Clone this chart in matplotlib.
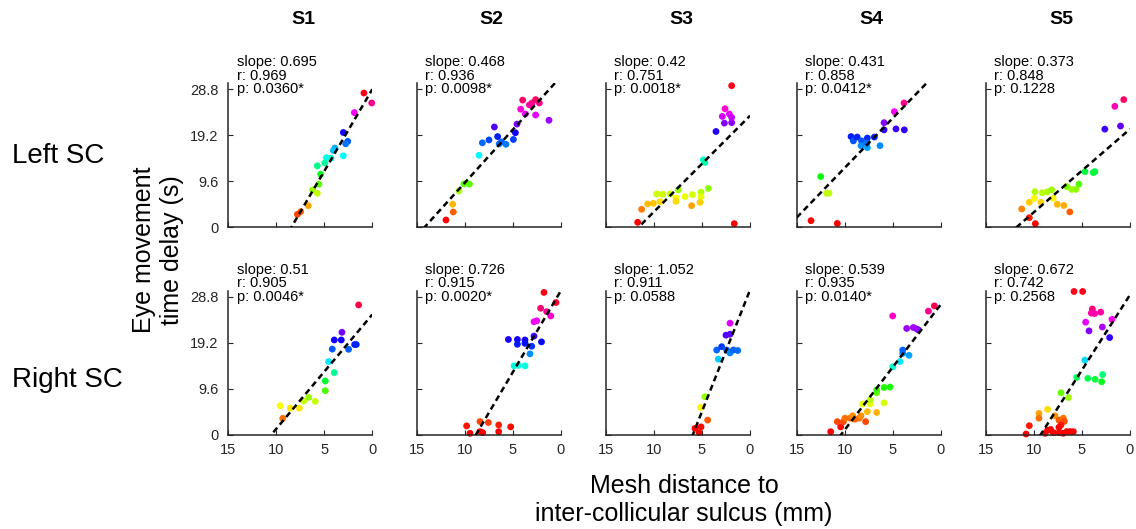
import numpy as np
import matplotlib.pyplot as plt
from matplotlib.colors import Normalize

plt.rcParams["font.family"] = ["Liberation Sans", "DejaVu Sans"]

subjects = ["S1", "S2", "S3", "S4", "S5"]
sides = ["Left SC", "Right SC"]
y_ticks = [0, 9.6, 19.2, 28.8]
y_ticklabels = ["0", "9.6", "19.2", "28.8"]
x_ticks = [15, 10, 5, 0]

# numbers printed in each panel, [side][subject]
slope_txt = [["0.695", "0.468", "0.42", "0.431", "0.373"],
             ["0.51", "0.726", "1.052", "0.539", "0.672"]]
r_txt = [["0.969", "0.936", "0.751", "0.858", "0.848"],
         ["0.905", "0.915", "0.911", "0.935", "0.742"]]
p_txt = [["0.0360*", "0.0098*", "0.0018*", "0.0412*", "0.1228"],
         ["0.0046*", "0.0020*", "0.0588", "0.0140*", "0.2568"]]

# dashed fit lines: delay = fit_icpt - fit_grad * distance
fit_icpt = [[28.76, 31.36, 23.24, 33.08, 20.46],
            [25.1, 30.0, 30.2, 27.17, 29.2]]
fit_grad = [[3.41, 2.21, 2.0, 2.07, 1.73],
            [2.38, 3.39, 5.06, 2.61, 3.13]]

# mesh distance (mm) and time delay (s), left SC
s1_left_dist = [0.87, 0.06, 1.87, 3.02, 2.56, 2.77, 3.02, 3.89, 4.06, 4.3,
                4.78, 4.95, 5.73, 5.38, 5.56, 6.22, 5.73, 6.67, 7.46, 7.8]
s1_left_delay = [27.97, 25.9, 23.9, 19.75, 17.9, 17.4, 14.9, 16.5, 16.0, 14.4,
                 14.5, 13.4, 12.8, 11.06, 8.97, 7.8, 7.1, 4.5, 3.26, 2.7]
s2_left_dist = [11.95, 11.19, 11.25, 10.59, 10.07, 9.51, 8.51, 8.16, 7.47, 6.91,
                6.57, 6.4, 6.15, 5.7, 4.93, 4.72, 4.55, 4.17, 3.68, 3.96,
                3.26, 2.99, 2.61, 2.22, 2.61, 1.22]
s2_left_delay = [1.52, 3.19, 4.8, 7.58, 9.04, 9.0, 15.0, 17.6, 18.2, 20.9,
                 18.9, 17.4, 17.8, 17.3, 18.3, 19.7, 21.5, 24.6, 23.6, 26.5,
                 25.5, 25.9, 26.6, 25.9, 23.4, 22.3]
s3_left_dist = [11.7, 1.64, 11.29, 10.66, 10.07, 9.38, 9.72, 9.1, 8.33, 7.47,
                7.71, 7.71, 6.77, 6.08, 6.0, 5.1, 5.1, 5.2, 4.34, 4.86,
                4.69, 3.54, 2.67, 1.91, 2.88, 2.15, 1.91, 2.6, 1.91]
s3_left_delay = [1.04, 0.76, 3.75, 4.86, 5.0, 5.35, 6.95, 6.9, 6.95, 7.8,
                 6.1, 5.4, 6.4, 4.5, 6.8, 7.3, 6.4, 5.2, 8.1, 14.05,
                 13.5, 19.96, 21.7, 21.8, 23.1, 23.6, 22.9, 24.7, 29.5]
s4_left_dist = [13.51, 10.77, 12.5, 11.64, 11.88, 9.34, 9.1, 8.7, 8.25, 8.3,
                7.64, 7.64, 6.91, 6.32, 7.71, 5.9, 5.9, 4.66, 3.79, 4.83, 3.82]
s4_left_delay = [1.38, 0.8, 10.57, 7.1, 7.1, 18.9, 18.0, 18.8, 18.0, 17.0,
                 18.6, 16.6, 18.8, 17.0, 17.5, 21.8, 20.3, 20.5, 20.3, 24.1, 25.9]
s5_left_dist = [9.86, 10.49, 11.28, 10.49, 9.97, 9.27, 9.9, 9.14, 8.62, 8.17,
                8.0, 7.58, 6.89, 6.27, 6.6, 6.08, 5.63, 5.32, 4.7, 3.83,
                3.66, 2.62, 0.99, 1.58, 0.65]
s5_left_delay = [0.76, 2.0, 3.82, 5.2, 6.05, 5.2, 7.4, 7.2, 7.4, 7.8,
                 6.05, 4.8, 4.55, 3.2, 8.5, 7.9, 7.9, 9.0, 11.6, 11.4,
                 11.6, 20.45, 21.1, 25.2, 26.6]

# right SC
s1_right_dist = [9.33, 9.6, 8.54, 7.6, 7.15, 6.63, 5.94, 4.9, 4.9, 3.96,
                 4.55, 4.17, 3.96, 3.23, 3.16, 2.47, 1.84, 1.67, 1.42]
s1_right_delay = [3.47, 6.1, 5.6, 5.6, 7.08, 7.85, 7.0, 9.24, 11.25, 13.0,
                  15.3, 17.9, 19.8, 19.8, 21.4, 17.85, 18.85, 18.85, 27.1]
s2_right_dist = [9.45, 9.8, 8.41, 8.41, 8.13, 7.54, 6.46, 6.46, 5.21, 4.86,
                 4.41, 3.72, 3.2, 5.45, 4.51, 4.51, 3.72, 3.72, 3.02, 2.78,
                 2.0, 2.78, 2.5, 2.09, 1.46, 1.04, 0.49, 1.74]
s2_right_delay = [0.35, 1.9, 2.8, 0.7, 0.5, 2.6, 2.1, 0.7, 1.7, 14.4,
                  14.5, 14.4, 16.9, 19.9, 19.9, 18.9, 19.8, 19.1, 18.5, 20.6,
                  19.4, 23.6, 23.8, 26.4, 25.7, 24.8, 27.6, 29.7]
s3_right_dist = [5.73, 5.31, 5.1, 4.41, 5.14, 4.69, 3.3, 3.47, 2.95, 2.43,
                 2.08, 1.74, 1.28, 2.5, 2.08, 2.08]
s3_right_delay = [1.39, 0.49, 1.7, 3.1, 5.76, 7.98, 15.8, 17.7, 18.4, 17.7,
                  17.1, 17.7, 17.6, 20.8, 21.0, 23.3]
s4_right_dist = [11.46, 10.42, 10.77, 10.14, 9.97, 9.45, 8.93, 8.48, 8.3, 7.82,
                 9.17, 7.64, 6.67, 8.13, 7.36, 7.36, 5.9, 6.67, 6.67, 5.9,
                 5.28, 5.0, 4.24, 3.96, 3.96, 3.3, 3.54, 2.85, 2.5, 2.33,
                 5.0, 1.28, 0.66]
s4_right_delay = [0.69, 1.7, 2.78, 2.78, 3.5, 3.5, 3.3, 3.5, 4.0, 2.78,
                  4.0, 4.86, 4.7, 6.46, 6.46, 7.3, 6.7, 8.8, 9.4, 9.9,
                  10.0, 14.2, 15.3, 17.0, 17.7, 16.6, 22.2, 22.4, 22.1, 21.9,
                  24.8, 25.8, 26.9]
s5_right_dist = [10.83, 10.49, 9.48, 9.48, 8.58, 7.82, 7.4, 6.95, 6.84, 7.19,
                 8.85, 8.58, 8.27, 7.4, 7.4, 7.99, 6.6, 6.25, 5.9, 6.95,
                 7.19, 6.42, 5.55, 4.4, 3.64, 2.85, 2.95, 4.7, 2.12, 4.27,
                 2.88, 4.62, 1.88, 3.92, 3.68, 4.03, 3.05, 5.83, 4.93]
s5_right_delay = [0.2, 1.94, 4.5, 3.5, 5.35, 4.0, 3.1, 3.5, 2.85, 2.1,
                  0.35, 1.0, 1.15, 1.6, 0.5, 0.5, 0.7, 0.7, 0.7, 0.35,
                  8.8, 7.8, 12.0, 11.8, 11.6, 12.6, 11.1, 15.6, 20.3, 21.7,
                  22.5, 23.5, 24.1, 26.25, 25.3, 25.4, 25.6, 29.9, 29.9]

dist = [[s1_left_dist, s2_left_dist, s3_left_dist, s4_left_dist, s5_left_dist],
        [s1_right_dist, s2_right_dist, s3_right_dist, s4_right_dist, s5_right_dist]]
delay = [[s1_left_delay, s2_left_delay, s3_left_delay, s4_left_delay, s5_left_delay],
         [s1_right_delay, s2_right_delay, s3_right_delay, s4_right_delay, s5_right_delay]]

W, H = 1136, 529
col_left = [228.3, 416.7, 606.0, 796.7, 986.0]   # pixels
row_base = [227.3, 435.0]
box = 144.0
axis_col = "#262626"

fig = plt.figure(figsize=(W / 100, H / 100), dpi=100)
cmap = plt.get_cmap("hsv")
norm = Normalize(1.5, 28, clip=True)

for i in range(2):
    for j in range(5):
        ax = fig.add_axes([col_left[j] / W, 1 - row_base[i] / H, box / W, box / H])
        x = np.array(dist[i][j])
        y = np.array(delay[i][j])
        ax.scatter(x, y, s=24, c=cmap(norm(y)), edgecolors="none",
                   zorder=2, clip_on=False)
        xx = np.array([15.0, 0.0])
        ax.plot(xx, fit_icpt[i][j] - fit_grad[i][j] * xx, color="k", lw=1.8,
                ls=(0, (2.4, 1.6)), zorder=3)
        ax.set_xlim(15, 0)
        ax.set_ylim(0, 30)
        ax.set_xticks(x_ticks)
        ax.set_yticks(y_ticks)
        ax.set_yticklabels(y_ticklabels)
        for s in ["top", "right"]:
            ax.spines[s].set_visible(False)
        for s in ["left", "bottom"]:
            ax.spines[s].set_color(axis_col)
            ax.spines[s].set_linewidth(1.1)
        ax.tick_params(direction="in", length=3.5, width=0.8, color=axis_col,
                       labelcolor=axis_col, labelsize=10.5)
        ax.tick_params(axis="y", pad=7)
        ax.tick_params(axis="x", pad=6)
        if i == 0:
            ax.tick_params(labelbottom=False)
        if j > 0:
            ax.tick_params(labelleft=False)
        ax.text(0.058, 1.195,
                f"slope: {slope_txt[i][j]}\nr: {r_txt[i][j]}\np: {p_txt[i][j]}",
                transform=ax.transAxes, ha="left", va="top", fontsize=10.5,
                linespacing=0.95)

for j, name in enumerate(subjects):
    fig.text((col_left[j] + box / 2 + 3) / W, 1 - 19 / H, name, fontsize=14,
             fontweight="bold", ha="center", va="center")

fig.text(12 / W, 1 - 156 / H, sides[0], fontsize=20, ha="left", va="center")
fig.text(12 / W, 1 - 380 / H, sides[1], fontsize=20, ha="left", va="center")

fig.text(158 / W, 1 - 250 / H, "Eye movement\ntime delay (s)", rotation=90,
         fontsize=18, ha="center", va="center", multialignment="center")
fig.text(684 / W, 1 - 500 / H, "Mesh distance to\ninter-collicular sulcus (mm)",
         fontsize=18, ha="center", va="center", multialignment="center")

fig.savefig("out.png", dpi=100)
